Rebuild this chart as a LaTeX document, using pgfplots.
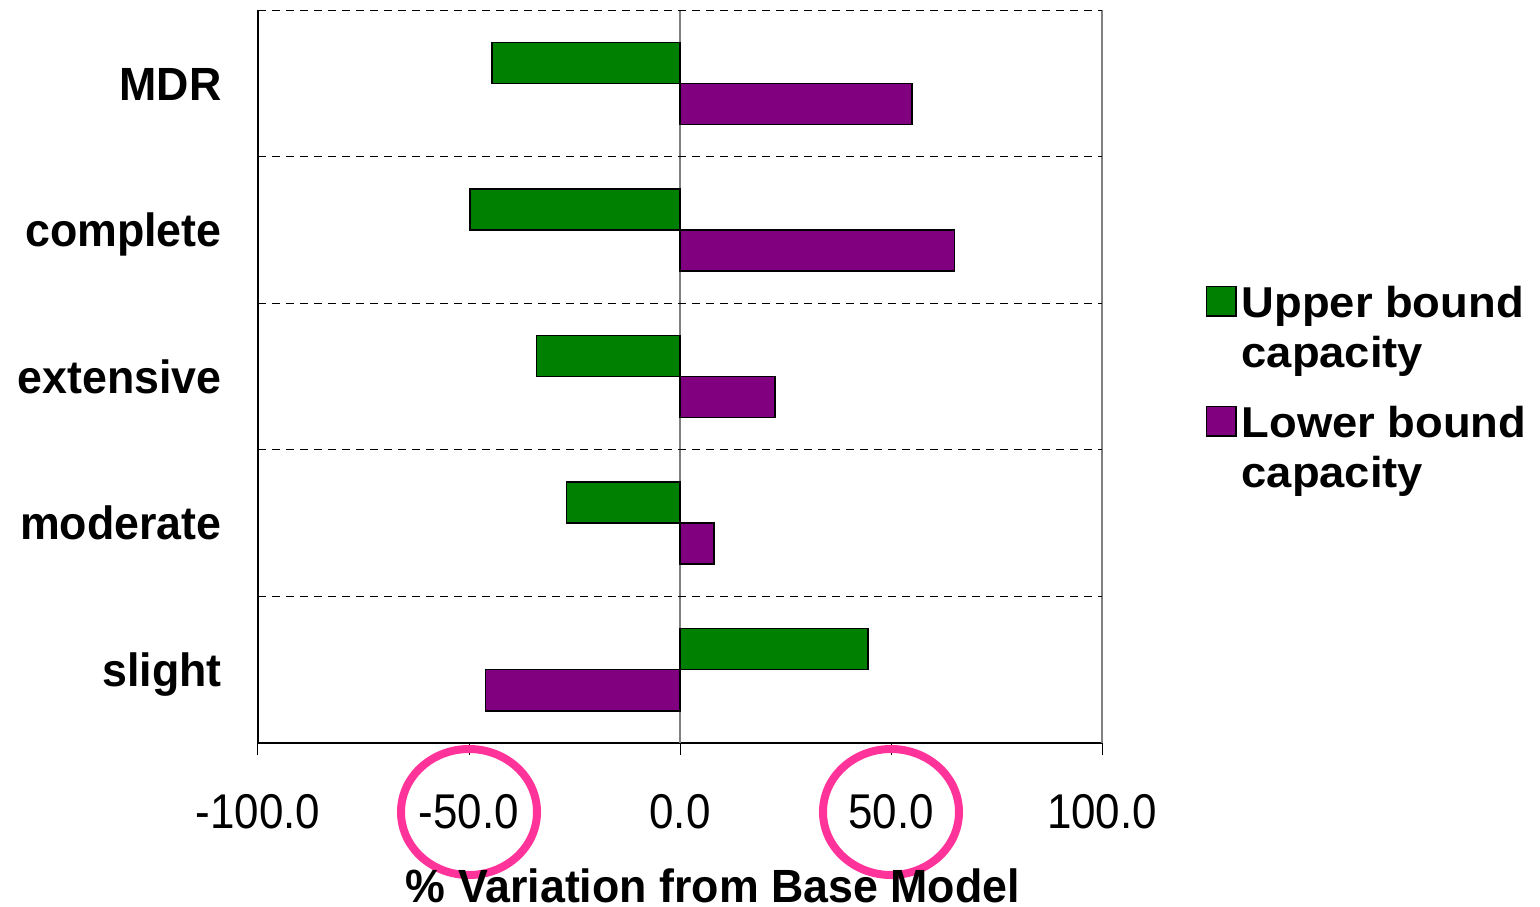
\documentclass[border=0pt]{standalone}
\usepackage{fontspec}
\setmainfont{Liberation Sans}[FakeStretch=0.9]
\newfontfamily\tickfont{Liberation Sans}[FakeStretch=0.9]
\newfontfamily\labfont{Liberation Sans}[FakeStretch=0.96]
\newfontfamily\legfont{Liberation Sans}[FakeStretch=1.05]
\usepackage{pgfplots}
\pgfplotsset{compat=1.18}
\definecolor{ubgreen}{RGB}{0,128,0}
\definecolor{lbpurple}{RGB}{128,0,128}
\definecolor{circ}{RGB}{255,51,153}
\pgfplotsset{sqlegend/.style={legend image code/.code={\draw[##1] (0pt,0.5pt) rectangle (14.7pt,15.2pt);}}}
\begin{document}
\begin{tikzpicture}
\useasboundingbox (-129pt,-81.5pt) rectangle (641pt,371.5pt);
\begin{axis}[
 anchor=south west, at={(0,0)},
 width=422pt, height=366.5pt, scale only axis,
 xbar, xmin=-100, xmax=100, ymin=-0.5, ymax=4.5,
 bar width=0.28,
 clip=false,
 axis x line*=bottom, axis y line*=left,
 x axis line style={-, line width=0.9pt, black},
 y axis line style={-, line width=0.7pt, black},
 xtick={-100,-50,0,50,100},
 tick align=outside,
 major tick length=6pt,
 xtick style={black, line width=0.5pt},
 ytick={0,1,2,3,4},
 yticklabels={slight,moderate,extensive,complete,MDR},
 ytick style={draw=none},
 /pgf/number format/.cd, fixed, fixed zerofill, precision=1, assume math mode=true,
 /pgfplots/.cd,
 xticklabel style={font=\tickfont\fontsize{24.4}{25}\selectfont, anchor=base, yshift=-36.5pt, inner sep=0pt},
 yticklabel style={font=\labfont\bfseries\fontsize{23.3}{25}\selectfont, anchor=base east, inner sep=0pt, xshift=-12pt, yshift=-8.4pt},
 xlabel={\% Variation from Base Model},
 xlabel style={at={(axis description cs:0.539,0)}, anchor=base, yshift=-79.5pt, font=\labfont\bfseries\fontsize{23.3}{25}\selectfont, inner sep=0pt},
 extra x ticks={0,100},
 extra x tick labels={},
 extra x tick style={grid=major, major grid style={gray, line width=0.7pt}, major tick length=0pt},
 extra y ticks={0.5,1.5,2.5,3.5,4.5},
 extra y tick labels={},
 extra y tick style={grid=major, major grid style={black, line width=0.4pt, dash pattern=on 4pt off 3pt}, major tick length=0pt},
 legend cell align=left,
 legend style={draw=none, fill=none, inner sep=0pt, outer sep=0pt,
   at={(axis description cs:1,1)}, anchor=north west, xshift=51.85pt, yshift=-136pt,
   row sep=41pt, column sep=2.5pt,
   cells={anchor=base west},
   nodes={inner sep=0pt, outer sep=0pt, font=\legfont\bfseries\fontsize{21.6}{25}\selectfont}},
]
\addplot[fill=ubgreen, draw=black, line width=0.75pt, bar shift=0.14, sqlegend]
  coordinates {(44.6,0) (-26.9,1) (-34.0,2) (-49.8,3) (-44.6,4)};
\addlegendentry{\begin{tabular}[t]{@{}l@{}}Upper bound\\capacity\end{tabular}}
\addplot[fill=lbpurple, draw=black, line width=0.75pt, bar shift=-0.14, sqlegend]
  coordinates {(-46.1,0) (8.1,1) (22.5,2) (65.1,3) (55.0,4)};
\addlegendentry{\begin{tabular}[t]{@{}l@{}}Lower bound\\capacity\end{tabular}}
\draw[circ, line width=4pt] ([yshift=-34.5pt]axis cs:-50,-0.5) ellipse [x radius=34pt, y radius=31.5pt];
\draw[circ, line width=4pt] ([yshift=-34.5pt]axis cs:50,-0.5) ellipse [x radius=34pt, y radius=31.5pt];
\end{axis}
\end{tikzpicture}
\end{document}
